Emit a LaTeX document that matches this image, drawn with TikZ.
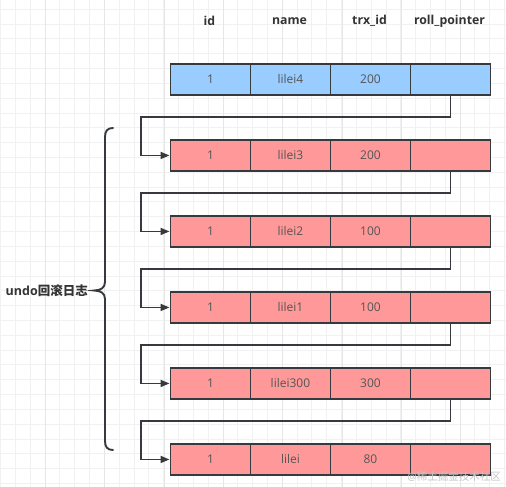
\documentclass[tikz,border=0pt]{standalone}
\usepackage{fontspec}
\setmainfont{Open Sans}
\newfontfamily\cjk{Noto Sans CJK SC}
\usetikzlibrary{arrows.meta}
\definecolor{gridminor}{HTML}{F1F1F1}
\definecolor{gridmajor}{HTML}{E6E6E6}
\definecolor{blueF}{HTML}{99CCFF}
\definecolor{redF}{HTML}{FF9999}
\definecolor{edge}{HTML}{36393D}
\definecolor{txt}{HTML}{333333}
\definecolor{celltxt}{HTML}{555555}
\definecolor{wm}{HTML}{C4C4C4}
\begin{document}
\begin{tikzpicture}[x=1pt,y=-1pt,
  cell/.style={draw=edge, line width=1.9pt, minimum width=80pt, minimum height=31pt,
    inner sep=0pt, anchor=north west, text=celltxt, font=\fontsize{12}{14}\selectfont},
  bluecell/.style={cell, fill=blueF},
  redcell/.style={cell, fill=redF},
  header/.style={text=txt, font=\fontsize{12.3}{14}\selectfont\bfseries},
  conn/.style={draw=edge, line width=1.7pt, -{Triangle[length=9pt,width=7pt]}},
  bracestyle/.style={draw=edge, line width=1.9pt, line cap=round}]
\useasboundingbox (0,0) rectangle (506,487);
\fill[white] (0,0) rectangle (506,487);
% grid
\foreach \k in {0,...,34} {
  \draw[gridminor, line width=1pt] ({0.7+14.82*\k},0) -- ({0.7+14.82*\k},487);
}
\foreach \k in {0,...,33} {
  \draw[gridminor, line width=1pt] (0,{9.3+14.82*\k}) -- (506,{9.3+14.82*\k});
}
\foreach \k in {0,...,8} {
  \draw[gridmajor, line width=1pt] ({45.7+59.28*(\k-1)},0) -- ({45.7+59.28*(\k-1)},487);
}
% headers
\node[header] (h1) at (209.5,21) {id};
\node[header] (h2) at (289.5,21) {name};
\node[header] (h3) at (369.5,21) {trx\_id};
\node[header] (h4) at (449.5,21) {roll\_pointer};
% rows
\foreach \i/\nm/\tx/\st in {0/lilei4/200/bluecell, 1/lilei3/200/redcell, 2/lilei2/100/redcell,
    3/lilei1/100/redcell, 4/lilei300/300/redcell, 5/lilei/80/redcell} {
  \node[\st] (r\i c1) at (169.5,{63+76*\i}) {1};
  \node[\st] (r\i c2) at (249.5,{63+76*\i}) {\nm};
  \node[\st] (r\i c3) at (329.5,{63+76*\i}) {\tx};
  \node[\st] (r\i c4) at (409.5,{63+76*\i}) {};
}
% connectors
\foreach \i [evaluate=\i as \p using int(\i-1)] in {1,...,5} {
  \coordinate (k\i) at (141,{117+76*(\i-1)});
  \draw[conn] (r\p c4.south) |- (k\i) |- (r\i c1.west);
}
% brace
\draw[bracestyle] (113,128) .. controls (107.5,128) and (105,131) .. (105,137)
  -- (105,282) .. controls (105,287.5) and (101,290.5) .. (94,290.5)
  .. controls (101,290.5) and (105,293.5) .. (105,299)
  -- (105,441) .. controls (105,447) and (107.5,450) .. (113,450);
\node[anchor=east, text=txt, font=\fontsize{12.5}{14}\selectfont\bfseries, inner sep=0pt] (lbl) at (88,290.5) {undo{\cjk\bfseries 回滚日志}};
% watermark
\node[anchor=east, text=wm, font=\fontsize{10.5}{12}\selectfont, inner sep=0pt] (wmk) at (501,477) {@{\cjk 稀土掘金技术社区}};
\end{tikzpicture}
\end{document}
